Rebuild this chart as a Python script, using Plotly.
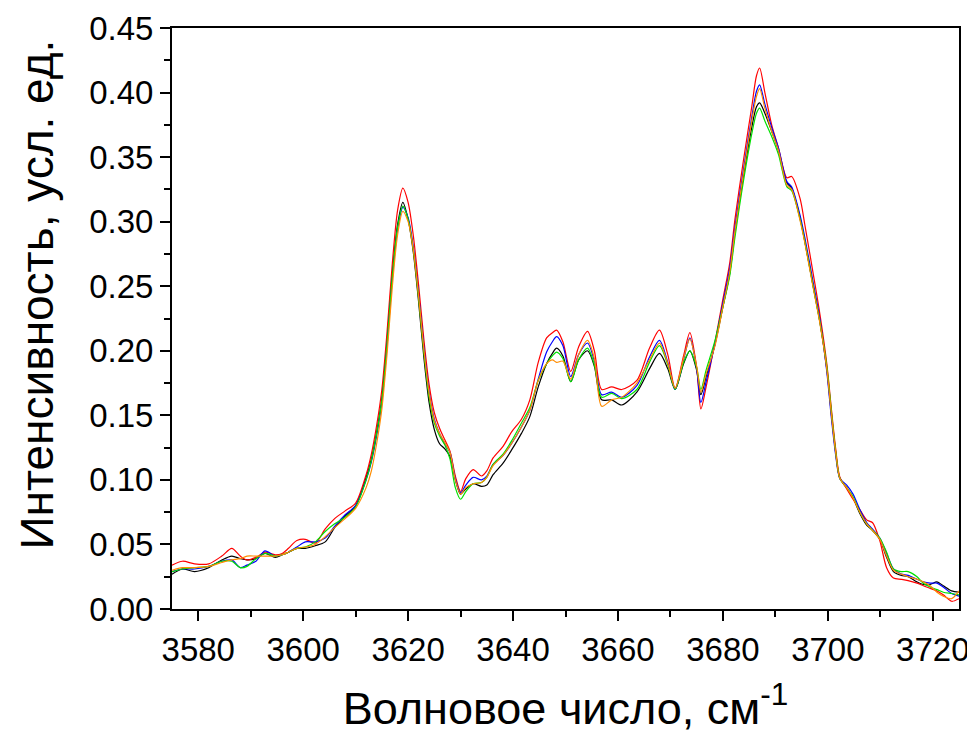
import plotly.graph_objects as go

wavenumber = [3575, 3577, 3579.3, 3582, 3584.5, 3586.4, 3588, 3589.3, 3591, 3592.7,
              3594.7, 3596, 3597.2, 3598.8, 3600.4, 3602.3, 3604.2, 3606, 3608, 3610,
              3612, 3613, 3614, 3615, 3616, 3617, 3618, 3619, 3620, 3621,
              3622, 3623, 3624, 3625, 3626, 3627, 3628, 3629, 3630, 3631,
              3632.4, 3634, 3635, 3636.2, 3638.1, 3639.7, 3641.6, 3643.2, 3644.8, 3646.4,
              3647.5, 3648.3, 3649.5, 3651, 3652.5, 3654.2, 3655.5, 3656.9, 3658.8, 3660.7,
              3663.6, 3666, 3667.9, 3669.5, 3670.9, 3672.5, 3673.7, 3675, 3675.8, 3676.8,
              3678.5, 3680, 3681.3, 3682.3, 3683.9, 3685.5, 3686.4, 3687, 3688, 3689.3,
              3690.6, 3692.2, 3693.1, 3694.7, 3695.6, 3697.2, 3698.5, 3699.8, 3700.7, 3701.5,
              3702.3, 3703.6, 3704.8, 3706.1, 3707.4, 3708.5, 3709.9, 3711.2, 3712.5, 3714,
              3715.3, 3717, 3718.2, 3719.5, 3720.8, 3722, 3723.6, 3725]

black = [0.027, 0.031, 0.029, 0.032, 0.038, 0.041, 0.039, 0.038, 0.039, 0.043,
         0.040, 0.042, 0.044, 0.047, 0.047, 0.049, 0.052, 0.063, 0.072, 0.080,
         0.102, 0.116, 0.137, 0.163, 0.208, 0.260, 0.298, 0.315, 0.302, 0.276,
         0.238, 0.195, 0.160, 0.139, 0.128, 0.124, 0.118, 0.100, 0.089, 0.093,
         0.097, 0.095, 0.096, 0.104, 0.113, 0.123, 0.136, 0.149, 0.172, 0.190,
         0.198, 0.202, 0.196, 0.176, 0.193, 0.200, 0.188, 0.162, 0.162, 0.158,
         0.168, 0.186, 0.198, 0.186, 0.170, 0.190, 0.200, 0.185, 0.166, 0.180,
         0.205, 0.234, 0.260, 0.292, 0.335, 0.373, 0.389, 0.392, 0.384, 0.370,
         0.355, 0.330, 0.326, 0.303, 0.285, 0.250, 0.222, 0.186, 0.150, 0.121,
         0.101, 0.094, 0.086, 0.074, 0.065, 0.061, 0.054, 0.040, 0.029, 0.026,
         0.025, 0.021, 0.019, 0.019, 0.021, 0.018, 0.014, 0.013]

red = [0.034, 0.037, 0.035, 0.035, 0.041, 0.047, 0.041, 0.038, 0.040, 0.044,
       0.042, 0.043, 0.047, 0.053, 0.054, 0.051, 0.062, 0.070, 0.076, 0.082,
       0.104, 0.120, 0.142, 0.170, 0.215, 0.268, 0.309, 0.326, 0.315, 0.289,
       0.251, 0.209, 0.174, 0.152, 0.140, 0.131, 0.122, 0.103, 0.091, 0.101,
       0.108, 0.103, 0.107, 0.117, 0.126, 0.137, 0.147, 0.162, 0.191, 0.210,
       0.214, 0.216, 0.207, 0.184, 0.203, 0.215, 0.200, 0.170, 0.172, 0.170,
       0.177, 0.202, 0.216, 0.197, 0.171, 0.196, 0.214, 0.187, 0.155, 0.172,
       0.207, 0.240, 0.268, 0.302, 0.347, 0.389, 0.413, 0.419, 0.400, 0.375,
       0.357, 0.334, 0.335, 0.318, 0.298, 0.260, 0.228, 0.190, 0.154, 0.124,
       0.102, 0.093, 0.085, 0.077, 0.069, 0.067, 0.053, 0.032, 0.024, 0.023,
       0.022, 0.020, 0.018, 0.016, 0.014, 0.011, 0.006, 0.008]

blue = [0.029, 0.031, 0.031, 0.033, 0.037, 0.038, 0.032, 0.034, 0.037, 0.045,
        0.041, 0.042, 0.044, 0.048, 0.052, 0.052, 0.055, 0.064, 0.073, 0.080,
        0.100, 0.114, 0.134, 0.160, 0.204, 0.256, 0.294, 0.311, 0.303, 0.280,
        0.244, 0.203, 0.168, 0.147, 0.136, 0.128, 0.121, 0.101, 0.090, 0.096,
        0.102, 0.100, 0.103, 0.112, 0.119, 0.128, 0.141, 0.154, 0.178, 0.199,
        0.207, 0.211, 0.204, 0.180, 0.197, 0.206, 0.192, 0.166, 0.168, 0.164,
        0.173, 0.195, 0.208, 0.191, 0.170, 0.193, 0.210, 0.186, 0.160, 0.176,
        0.206, 0.237, 0.264, 0.296, 0.340, 0.381, 0.401, 0.406, 0.391, 0.373,
        0.357, 0.331, 0.327, 0.305, 0.288, 0.253, 0.224, 0.184, 0.147, 0.119,
        0.101, 0.096, 0.089, 0.077, 0.067, 0.062, 0.055, 0.043, 0.031, 0.027,
        0.026, 0.023, 0.021, 0.020, 0.020, 0.017, 0.012, 0.010]

green = [0.029, 0.031, 0.032, 0.033, 0.037, 0.037, 0.032, 0.033, 0.039, 0.043,
         0.041, 0.042, 0.044, 0.047, 0.048, 0.052, 0.060, 0.066, 0.071, 0.079,
         0.100, 0.115, 0.136, 0.162, 0.206, 0.258, 0.296, 0.312, 0.302, 0.278,
         0.241, 0.199, 0.164, 0.144, 0.134, 0.127, 0.116, 0.094, 0.085, 0.091,
         0.097, 0.098, 0.102, 0.112, 0.120, 0.130, 0.144, 0.156, 0.177, 0.190,
         0.196, 0.199, 0.194, 0.176, 0.193, 0.202, 0.189, 0.164, 0.167, 0.163,
         0.170, 0.191, 0.204, 0.189, 0.170, 0.191, 0.200, 0.187, 0.170, 0.185,
         0.208, 0.234, 0.258, 0.288, 0.331, 0.368, 0.384, 0.388, 0.378, 0.366,
         0.352, 0.327, 0.324, 0.302, 0.285, 0.250, 0.222, 0.188, 0.152, 0.122,
         0.101, 0.094, 0.087, 0.075, 0.066, 0.061, 0.055, 0.044, 0.031, 0.029,
         0.029, 0.025, 0.020, 0.017, 0.015, 0.013, 0.012, 0.011]

orange = [0.030, 0.032, 0.032, 0.033, 0.036, 0.038, 0.039, 0.041, 0.041, 0.041,
          0.041, 0.042, 0.044, 0.047, 0.048, 0.050, 0.056, 0.063, 0.070, 0.078,
          0.094, 0.107, 0.128, 0.155, 0.198, 0.250, 0.290, 0.308, 0.300, 0.278,
          0.242, 0.201, 0.167, 0.146, 0.136, 0.129, 0.121, 0.100, 0.089, 0.094,
          0.097, 0.098, 0.102, 0.111, 0.119, 0.128, 0.141, 0.154, 0.177, 0.190,
          0.193, 0.191, 0.192, 0.178, 0.197, 0.208, 0.194, 0.157, 0.162, 0.164,
          0.175, 0.193, 0.206, 0.190, 0.171, 0.194, 0.209, 0.188, 0.168, 0.182,
          0.204, 0.234, 0.261, 0.293, 0.337, 0.378, 0.397, 0.403, 0.388, 0.370,
          0.355, 0.328, 0.325, 0.301, 0.284, 0.249, 0.221, 0.186, 0.150, 0.121,
          0.101, 0.094, 0.086, 0.075, 0.066, 0.061, 0.054, 0.041, 0.030, 0.027,
          0.025, 0.023, 0.021, 0.018, 0.013, 0.010, 0.008, 0.014]

series = [('black', black), ('#ff0000', red), ('#0000ff', blue),
          ('#00e000', green), ('#ff8c00', orange)]

fig = go.Figure()
for color, values in series:
    fig.add_trace(go.Scatter(x=wavenumber, y=values, mode='lines',
                             line=dict(color=color, width=1.2, shape='spline', smoothing=0.8),
                             showlegend=False))

# page body has an 8px margin, so the figure is sized to fill the rest of the window
font = 'Liberation Sans, Arial, sans-serif'
fig.update_layout(
    width=967, height=727,
    margin=dict(l=164, r=16, t=20, b=126),
    plot_bgcolor='white', paper_bgcolor='white',
    font=dict(family=font, color='black'),
)
fig.update_xaxes(range=[3575, 3725], tickmode='linear', tick0=3580, dtick=20,
                 ticks='outside', ticklen=10, tickwidth=2, tickcolor='black',
                 minor=dict(ticks='outside', ticklen=6, tickwidth=2, tickcolor='black', dtick=10),
                 showline=True, linewidth=2, linecolor='black', mirror=True,
                 showgrid=False, zeroline=False, tickfont=dict(size=33), automargin=False,
                 title=dict(text='Волновое число, см<sup>-1</sup>', font=dict(size=45), standoff=26))
fig.update_yaxes(range=[0, 0.45], tickmode='linear', tick0=0, dtick=0.05, tickformat='.2f',
                 ticks='outside', ticklen=10, tickwidth=2, tickcolor='black',
                 minor=dict(ticks='outside', ticklen=6, tickwidth=2, tickcolor='black', dtick=0.025),
                 showline=True, linewidth=2, linecolor='black', mirror=True,
                 showgrid=False, zeroline=False, tickfont=dict(size=33), automargin=False)

# y title sits a little above the centre of the axis, as in the original
fig.add_annotation(text='Интенсивность, усл. ед.', textangle=-90, showarrow=False,
                   xref='paper', yref='paper', x=0, y=0.5, xanchor='center', yanchor='middle',
                   xshift=-136, yshift=24, font=dict(size=46))

fig.write_html("out.html")
